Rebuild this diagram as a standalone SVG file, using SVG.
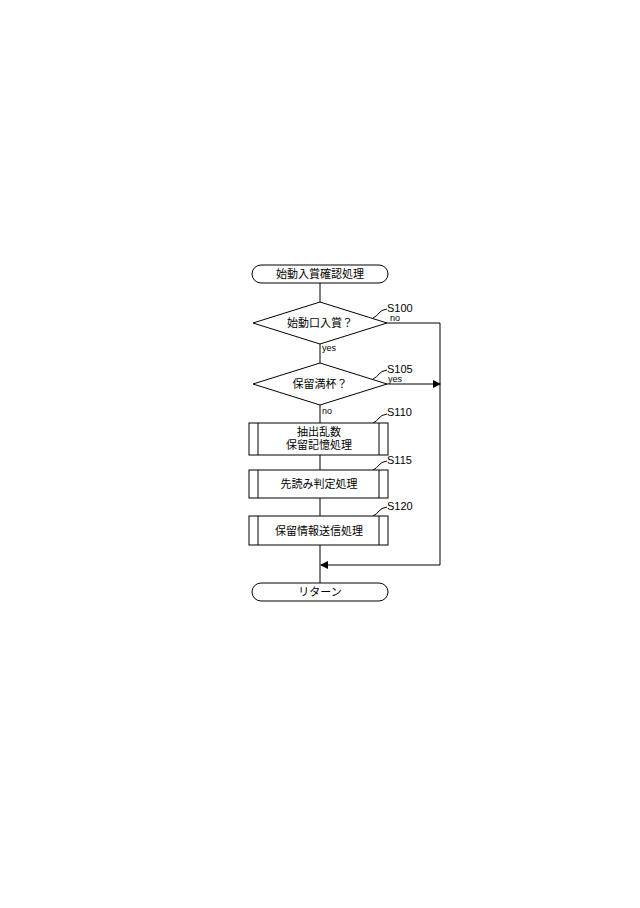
<svg xmlns="http://www.w3.org/2000/svg" width="640" height="908" viewBox="0 0 640 908">
<style>
.s{fill:#fff;stroke:#000;stroke-width:1}
.l{fill:none;stroke:#000;stroke-width:1}
.t{font-family:"Liberation Sans","Noto Sans CJK JP",sans-serif;font-size:11px;fill:#000}
.c{text-anchor:middle}
.sm{font-size:9px}
</style>
<defs><marker id="a" markerWidth="8" markerHeight="8" refX="7" refY="4" orient="auto" markerUnits="userSpaceOnUse"><path d="M0,0 L8,4 L0,8z" fill="#000"/></marker></defs>
<rect width="640" height="908" fill="#fff"/>
<g id="connectors">
<path class="l" d="M320,283V302M320,344V363M320,405V423M320,455V470M320,498V516M320,545V583"/>
<path class="l" d="M387,323H440V565H321" marker-end="url(#a)"/>
<path class="l" d="M387,384H440" marker-end="url(#a)"/>
<path class="l" d="M373,318q4,-2 6,-5t8,-4M373,379q4,-2 6,-5t8,-4M373,423q4,-2 6,-5t8,-4M373,470q4,-2 6,-5t8,-4M373,516q4,-2 6,-5t8,-4"/>
<text class="t sm" x="390" y="321">no</text>
<text class="t sm" x="322" y="351">yes</text>
<text class="t sm" x="388" y="382">yes</text>
<text class="t sm" x="322" y="414">no</text>
<text class="t" x="387" y="312">S100</text>
<text class="t" x="387" y="373">S105</text>
<text class="t" x="387" y="416">S110</text>
<text class="t" x="387" y="464">S115</text>
<text class="t" x="387" y="510">S120</text>
</g>
<g id="start"><rect class="s" x="252" y="265" width="136" height="18" rx="9"/><text class="t c" x="320" y="278">始動入賞確認処理</text></g>
<g id="s100"><path class="s" d="M320,302L387,323L320,344L253,323Z"/><text class="t c" x="320" y="327">始動口入賞？</text></g>
<g id="s105"><path class="s" d="M320,363L387,384L320,405L253,384Z"/><text class="t c" x="320" y="388">保留満杯？</text></g>
<g id="s110"><rect class="s" x="249" y="423" width="139" height="32"/><path class="l" d="M258,423V455M379,423V455"/><text class="t c" x="319" y="436">抽出乱数</text><text class="t c" x="319" y="449">保留記憶処理</text></g>
<g id="s115"><rect class="s" x="249" y="470" width="139" height="28"/><path class="l" d="M258,470V498M379,470V498"/><text class="t c" x="319" y="488">先読み判定処理</text></g>
<g id="s120"><rect class="s" x="249" y="516" width="139" height="29"/><path class="l" d="M258,516V545M379,516V545"/><text class="t c" x="319" y="535">保留情報送信処理</text></g>
<g id="end"><rect class="s" x="252" y="583" width="136" height="18" rx="9"/><text class="t c" x="320" y="596">リターン</text></g>
</svg>
